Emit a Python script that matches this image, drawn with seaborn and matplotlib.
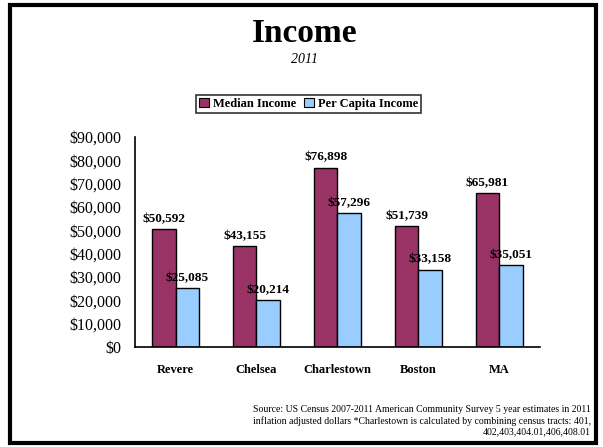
import numpy as np
import pandas as pd
import matplotlib
matplotlib.use("Agg")
import matplotlib.pyplot as plt
import seaborn as sns
from matplotlib.patches import Rectangle
from matplotlib.ticker import FuncFormatter

places = ["Revere", "Chelsea", "Charlestown", "Boston", "MA"]
median_income = [50592, 43155, 76898, 51739, 65981]
per_capita_income = [25085, 20214, 57296, 33158, 35051]
series_names = ["Median Income", "Per Capita Income"]
colors = ["#993366", "#99CCFF"]

data = pd.DataFrame({
    "place": places * 2,
    "series": [series_names[0]] * 5 + [series_names[1]] * 5,
    "value": median_income + per_capita_income,
})

sns.set_style("white")
plt.rcParams["font.family"] = ["Liberation Serif", "DejaVu Serif"]
plt.rcParams["text.color"] = "black"
plt.rcParams["xtick.color"] = "black"
plt.rcParams["ytick.color"] = "black"

fig = plt.figure(figsize=(6.03, 4.47), dpi=100)
ax = fig.add_axes([0.224, 0.2237, 0.671, 0.4698])

sns.barplot(data=data, x="place", y="value", hue="series", palette=colors,
            saturation=1, width=0.58, edgecolor="black", linewidth=1, ax=ax,
            legend=False)

ax.set_ylim(0, 90000)
ax.set_yticks(np.arange(0, 90001, 10000))
ax.yaxis.set_major_formatter(FuncFormatter(lambda v, p: f"${v:,.0f}"))
ax.set_xlim(-0.5, 4.5)
ax.set_xticks(np.arange(-0.5, 5, 1))
ax.set_xticklabels([])
ax.set_xticks(range(5), minor=True)
ax.set_xticklabels(places, minor=True, fontsize=9, fontweight="bold")
ax.tick_params(axis="x", which="major", direction="out", length=5, width=1)
ax.tick_params(axis="x", which="minor", length=0, pad=12)
ax.tick_params(axis="y", direction="out", length=4, width=1,
               labelsize=11.5, pad=6)
ax.set_xlabel("")
ax.set_ylabel("")
for s in ["top", "right"]:
    ax.spines[s].set_visible(False)
for s in ["left", "bottom"]:
    ax.spines[s].set_color("black")
    ax.spines[s].set_linewidth(1.2)

for cont in ax.containers:
    ax.bar_label(cont, labels=[f"${v:,.0f}" for v in cont.datavalues],
                 padding=3, fontsize=9.5, fontweight="bold")

handles = [Rectangle((0, 0), 1, 1, facecolor=c, edgecolor="black", linewidth=0.8)
           for c in colors]
leg = fig.legend(handles, series_names, loc="center", bbox_to_anchor=(0.512, 0.768),
                 ncol=2, frameon=True, fancybox=False, handlelength=0.8,
                 handleheight=0.8, handletextpad=0.3, columnspacing=0.6,
                 borderpad=0.25, prop={"size": 9, "weight": "bold"})
leg.get_frame().set_edgecolor("black")
leg.get_frame().set_linewidth(1.2)

fig.text(0.505, 0.925, "Income", ha="center", va="center", fontsize=24, fontweight="bold")
fig.text(0.505, 0.866, "2011", ha="center", va="center", fontsize=10, style="italic")

fig.text(0.98, 0.058,
         "Source: US Census 2007-2011 American Community Survey 5 year estimates in 2011\n"
         "inflation adjusted dollars *Charlestown is calculated by combining census tracts: 401,\n"
         "402,403,404.01,406,408.01",
         ha="right", va="center", fontsize=7, linespacing=1.25)

fig.add_artist(Rectangle((0.017, 0.01), 0.972, 0.978, transform=fig.transFigure,
                         fill=False, edgecolor="black", linewidth=3))

fig.savefig("out.png", dpi=100)
